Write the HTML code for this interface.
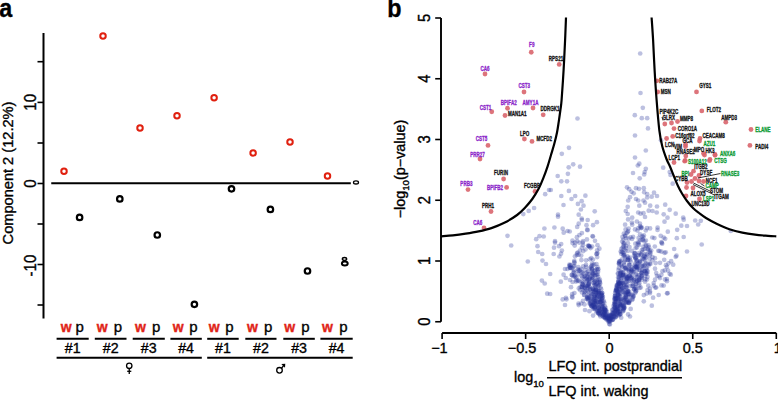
<!DOCTYPE html>
<html><head><meta charset="utf-8"><style>
html,body{margin:0;padding:0;background:#fff;}
svg{display:block;font-family:"Liberation Sans", sans-serif;}
text{fill:currentColor;stroke:currentColor;stroke-width:0.35px;paint-order:stroke;}
.lb{font-size:6.3px;font-weight:bold;stroke-width:0.3px;}
</style></head><body>
<svg width="778" height="400" viewBox="0 0 778 400">
<text transform="translate(-0.8,17) scale(0.88,1)" font-size="26.5" font-weight="bold">a</text>
<line x1="43.5" y1="33" x2="43.5" y2="318.5" stroke="#000" stroke-width="2"/>
<line x1="37.5" y1="61.7" x2="43.5" y2="61.7" stroke="#000" stroke-width="1.6"/>
<line x1="37.5" y1="102.4" x2="43.5" y2="102.4" stroke="#000" stroke-width="1.6"/>
<line x1="37.5" y1="143" x2="43.5" y2="143" stroke="#000" stroke-width="1.6"/>
<line x1="37.5" y1="183.5" x2="43.5" y2="183.5" stroke="#000" stroke-width="1.6"/>
<line x1="37.5" y1="224" x2="43.5" y2="224" stroke="#000" stroke-width="1.6"/>
<line x1="37.5" y1="264.5" x2="43.5" y2="264.5" stroke="#000" stroke-width="1.6"/>
<line x1="37.5" y1="305" x2="43.5" y2="305" stroke="#000" stroke-width="1.6"/>
<text transform="translate(36.4,102.3) rotate(-90) scale(1,1.1)" text-anchor="middle" font-size="15">10</text>
<text transform="translate(36.4,183.5) rotate(-90) scale(1,1.1)" text-anchor="middle" font-size="15">0</text>
<text transform="translate(36.4,265.6) rotate(-90) scale(1,1.1)" text-anchor="middle" font-size="15">-10</text>
<text transform="translate(13,173) rotate(-90)" text-anchor="middle" font-size="14.6">Component 2 (12.2%)</text>
<line x1="51.25" y1="183.3" x2="350.8" y2="183.3" stroke="#000" stroke-width="2"/>
<ellipse cx="356" cy="182.4" rx="2.5" ry="1.6" fill="none" stroke="#000" stroke-width="1.3"/>
<circle cx="64" cy="171.25" r="2.75" fill="none" stroke="#e0200f" stroke-width="2.0"/>
<circle cx="103" cy="36" r="2.75" fill="none" stroke="#e0200f" stroke-width="2.0"/>
<circle cx="140" cy="128" r="2.75" fill="none" stroke="#e0200f" stroke-width="2.0"/>
<circle cx="177" cy="115.75" r="2.75" fill="none" stroke="#e0200f" stroke-width="2.0"/>
<circle cx="214.1" cy="97.7" r="2.75" fill="none" stroke="#e0200f" stroke-width="2.0"/>
<circle cx="253.1" cy="152.9" r="2.75" fill="none" stroke="#e0200f" stroke-width="2.0"/>
<circle cx="290" cy="142.1" r="2.75" fill="none" stroke="#e0200f" stroke-width="2.0"/>
<circle cx="327.5" cy="176" r="2.75" fill="none" stroke="#e0200f" stroke-width="2.0"/>
<circle cx="79.6" cy="217.4" r="2.75" fill="none" stroke="#000" stroke-width="2.2"/>
<circle cx="119.8" cy="198.9" r="2.75" fill="none" stroke="#000" stroke-width="2.2"/>
<circle cx="157.3" cy="235" r="2.75" fill="none" stroke="#000" stroke-width="2.2"/>
<circle cx="194.4" cy="304.3" r="2.75" fill="none" stroke="#000" stroke-width="2.2"/>
<circle cx="231.5" cy="188.8" r="2.75" fill="none" stroke="#000" stroke-width="2.2"/>
<circle cx="270.4" cy="209.4" r="2.75" fill="none" stroke="#000" stroke-width="2.2"/>
<circle cx="307.5" cy="271" r="2.75" fill="none" stroke="#000" stroke-width="2.2"/>
<ellipse cx="344.8" cy="263.6" rx="2.9" ry="2.0" fill="none" stroke="#000" stroke-width="2"/><ellipse cx="344.5" cy="259" rx="2.1" ry="1.4" fill="none" stroke="#000" stroke-width="1.5"/>
<text x="66.2" y="331.6" text-anchor="middle" font-size="14" font-weight="bold" color="#e02418">w</text>
<text x="102.2" y="331.6" text-anchor="middle" font-size="14" font-weight="bold" color="#e02418">w</text>
<text x="140.5" y="331.6" text-anchor="middle" font-size="14" font-weight="bold" color="#e02418">w</text>
<text x="178.1" y="331.6" text-anchor="middle" font-size="14" font-weight="bold" color="#e02418">w</text>
<text x="214.1" y="331.6" text-anchor="middle" font-size="14" font-weight="bold" color="#e02418">w</text>
<text x="252.4" y="331.6" text-anchor="middle" font-size="14" font-weight="bold" color="#e02418">w</text>
<text x="289.8" y="331.6" text-anchor="middle" font-size="14" font-weight="bold" color="#e02418">w</text>
<text x="327.5" y="331.6" text-anchor="middle" font-size="14" font-weight="bold" color="#e02418">w</text>
<text x="79.6" y="331.6" text-anchor="middle" font-size="15">p</text>
<text x="118.0" y="331.6" text-anchor="middle" font-size="15">p</text>
<text x="156.2" y="331.6" text-anchor="middle" font-size="15">p</text>
<text x="193.4" y="331.6" text-anchor="middle" font-size="15">p</text>
<text x="229.5" y="331.6" text-anchor="middle" font-size="15">p</text>
<text x="268.2" y="331.6" text-anchor="middle" font-size="15">p</text>
<text x="305.4" y="331.6" text-anchor="middle" font-size="15">p</text>
<text x="343.4" y="331.6" text-anchor="middle" font-size="15">p</text>
<line x1="56.6" y1="338.8" x2="88.7" y2="338.8" stroke="#000" stroke-width="2"/>
<text x="72.65" y="353.2" text-anchor="middle" font-size="14.2">#1</text>
<line x1="94.8" y1="338.8" x2="126.5" y2="338.8" stroke="#000" stroke-width="2"/>
<text x="110.65" y="353.2" text-anchor="middle" font-size="14.2">#2</text>
<line x1="132.7" y1="338.8" x2="164.8" y2="338.8" stroke="#000" stroke-width="2"/>
<text x="148.75" y="353.2" text-anchor="middle" font-size="14.2">#3</text>
<line x1="170.4" y1="338.8" x2="201.8" y2="338.8" stroke="#000" stroke-width="2"/>
<text x="186.10000000000002" y="353.2" text-anchor="middle" font-size="14.2">#4</text>
<line x1="207.2" y1="338.8" x2="238.7" y2="338.8" stroke="#000" stroke-width="2"/>
<text x="222.95" y="353.2" text-anchor="middle" font-size="14.2">#1</text>
<line x1="245.3" y1="338.8" x2="276.5" y2="338.8" stroke="#000" stroke-width="2"/>
<text x="260.9" y="353.2" text-anchor="middle" font-size="14.2">#2</text>
<line x1="283.3" y1="338.8" x2="314.8" y2="338.8" stroke="#000" stroke-width="2"/>
<text x="299.05" y="353.2" text-anchor="middle" font-size="14.2">#3</text>
<line x1="320.4" y1="338.8" x2="352.7" y2="338.8" stroke="#000" stroke-width="2"/>
<text x="336.54999999999995" y="353.2" text-anchor="middle" font-size="14.2">#4</text>
<line x1="56.6" y1="357.7" x2="201.8" y2="357.7" stroke="#000" stroke-width="2"/>
<line x1="207.2" y1="357.7" x2="352.7" y2="357.7" stroke="#000" stroke-width="2"/>
<g fill="none" stroke="#000" stroke-width="1.3"><circle cx="129.25" cy="365.8" r="2.7"/><line x1="129.25" y1="368.5" x2="129.25" y2="373.9"/><line x1="127.2" y1="371.3" x2="131.3" y2="371.3"/></g>
<g fill="none" stroke="#000" stroke-width="1.3"><circle cx="279.5" cy="370.3" r="2.8"/><line x1="281.5" y1="368.3" x2="284" y2="365"/></g><path d="M281.3 364 L285.3 363.8 L285 367.8 Z" fill="#000"/>
<text transform="translate(387.2,17) scale(0.88,1)" font-size="26.5" font-weight="bold">b</text>
<line x1="441" y1="18.0" x2="441" y2="321.75" stroke="#000" stroke-width="1.9"/>
<line x1="435.2" y1="321.75" x2="441" y2="321.75" stroke="#000" stroke-width="1.6"/>
<text transform="translate(429.6,321.75) rotate(-90) scale(1,1.1)" text-anchor="middle" font-size="14.8">0</text>
<line x1="435.2" y1="261.0" x2="441" y2="261.0" stroke="#000" stroke-width="1.6"/>
<text transform="translate(429.6,261.0) rotate(-90) scale(1,1.1)" text-anchor="middle" font-size="14.8">1</text>
<line x1="435.2" y1="200.25" x2="441" y2="200.25" stroke="#000" stroke-width="1.6"/>
<text transform="translate(429.6,200.25) rotate(-90) scale(1,1.1)" text-anchor="middle" font-size="14.8">2</text>
<line x1="435.2" y1="139.5" x2="441" y2="139.5" stroke="#000" stroke-width="1.6"/>
<text transform="translate(429.6,139.5) rotate(-90) scale(1,1.1)" text-anchor="middle" font-size="14.8">3</text>
<line x1="435.2" y1="78.75" x2="441" y2="78.75" stroke="#000" stroke-width="1.6"/>
<text transform="translate(429.6,78.75) rotate(-90) scale(1,1.1)" text-anchor="middle" font-size="14.8">4</text>
<line x1="435.2" y1="18.0" x2="441" y2="18.0" stroke="#000" stroke-width="1.6"/>
<text transform="translate(429.6,18.0) rotate(-90) scale(1,1.1)" text-anchor="middle" font-size="14.8">5</text>
<text transform="translate(405,169) rotate(-90)" text-anchor="middle" font-size="14.4">−log<tspan font-size="9.6" dy="4">10</tspan><tspan dy="-4">(p−value)</tspan></text>
<line x1="442.1" y1="333" x2="776.3000000000001" y2="333" stroke="#000" stroke-width="1.8"/>
<line x1="442.1" y1="333" x2="442.1" y2="339" stroke="#000" stroke-width="1.6"/>
<text x="439.40000000000003" y="353.4" text-anchor="middle" font-size="14.5">−1</text>
<line x1="525.6500000000001" y1="333" x2="525.6500000000001" y2="339" stroke="#000" stroke-width="1.6"/>
<text x="522.0500000000001" y="353.4" text-anchor="middle" font-size="14.5">−0.5</text>
<line x1="609.2" y1="333" x2="609.2" y2="339" stroke="#000" stroke-width="1.6"/>
<text x="609.5" y="353.4" text-anchor="middle" font-size="14.5">0</text>
<line x1="692.75" y1="333" x2="692.75" y2="339" stroke="#000" stroke-width="1.6"/>
<text x="692.75" y="353.4" text-anchor="middle" font-size="14.5">0.5</text>
<line x1="776.3000000000001" y1="333" x2="776.3000000000001" y2="339" stroke="#000" stroke-width="1.6"/>
<text x="777.8000000000001" y="353.4" text-anchor="middle" font-size="14.5">1</text>
<text x="514" y="381.5" font-size="14.4">log<tspan font-size="9.6" dy="5.6">10</tspan></text>
<text x="548.5" y="370.6" font-size="14.4">LFQ int. postprandial</text>
<line x1="547" y1="377.8" x2="682" y2="377.8" stroke="#000" stroke-width="1.6"/>
<text x="548.5" y="395.7" font-size="14.4">LFQ int. waking</text>
<g fill="#26349a" fill-opacity="0.31">
<circle cx="507.5" cy="235.8" r="2.35"/>
<circle cx="511.2" cy="245.5" r="2.35"/>
<circle cx="536.2" cy="239.2" r="2.35"/>
<circle cx="539.5" cy="236.2" r="2.35"/>
<circle cx="537.5" cy="246.2" r="2.35"/>
<circle cx="538.2" cy="252.0" r="2.35"/>
<circle cx="527.8" cy="261.5" r="2.35"/>
<circle cx="523.3" cy="214.1" r="2.35"/>
<circle cx="528.7" cy="210.9" r="2.35"/>
<circle cx="534.1" cy="208.0" r="2.35"/>
<circle cx="640.2" cy="53.5" r="2.35"/>
<circle cx="640.5" cy="93.0" r="2.35"/>
<circle cx="642.8" cy="107.8" r="2.35"/>
<circle cx="634.8" cy="115.2" r="2.35"/>
<circle cx="641.8" cy="118.2" r="2.35"/>
<circle cx="647.2" cy="118.2" r="2.35"/>
<circle cx="577.5" cy="118.5" r="2.35"/>
<circle cx="635.0" cy="135.5" r="2.35"/>
<circle cx="569.0" cy="147.8" r="2.35"/>
<circle cx="561.8" cy="153.8" r="2.35"/>
<circle cx="635.0" cy="157.5" r="2.35"/>
<circle cx="573.2" cy="164.3" r="2.35"/>
<circle cx="568.7" cy="167.3" r="2.35"/>
<circle cx="580.0" cy="166.7" r="2.35"/>
<circle cx="648.0" cy="128.4" r="2.35"/>
<circle cx="661.0" cy="140.3" r="2.35"/>
<circle cx="645.8" cy="150.5" r="2.35"/>
<circle cx="645.8" cy="168.8" r="2.35"/>
<circle cx="663.2" cy="167.7" r="2.35"/>
<circle cx="567.9" cy="173.8" r="2.35"/>
<circle cx="557.7" cy="176.0" r="2.35"/>
<circle cx="561.3" cy="181.3" r="2.35"/>
<circle cx="567.0" cy="181.3" r="2.35"/>
<circle cx="549.0" cy="190.0" r="2.35"/>
<circle cx="550.8" cy="190.0" r="2.35"/>
<circle cx="545.2" cy="194.2" r="2.35"/>
<circle cx="568.9" cy="190.9" r="2.35"/>
<circle cx="561.3" cy="196.0" r="2.35"/>
<circle cx="575.2" cy="196.0" r="2.35"/>
<circle cx="585.4" cy="195.7" r="2.35"/>
<circle cx="571.5" cy="199.0" r="2.35"/>
<circle cx="581.7" cy="201.2" r="2.35"/>
<circle cx="577.9" cy="203.9" r="2.35"/>
<circle cx="583.5" cy="205.7" r="2.35"/>
<circle cx="563.5" cy="205.0" r="2.35"/>
<circle cx="580.9" cy="209.5" r="2.35"/>
<circle cx="594.7" cy="211.3" r="2.35"/>
<circle cx="558.0" cy="214.7" r="2.35"/>
<circle cx="558.0" cy="216.7" r="2.35"/>
<circle cx="578.7" cy="214.7" r="2.35"/>
<circle cx="581.7" cy="218.5" r="2.35"/>
<circle cx="587.7" cy="220.0" r="2.35"/>
<circle cx="639.3" cy="163.7" r="2.35"/>
<circle cx="637.8" cy="165.5" r="2.35"/>
<circle cx="644.7" cy="172.0" r="2.35"/>
<circle cx="644.2" cy="174.5" r="2.35"/>
<circle cx="633.0" cy="173.0" r="2.35"/>
<circle cx="639.7" cy="178.3" r="2.35"/>
<circle cx="670.5" cy="175.0" r="2.35"/>
<circle cx="672.7" cy="183.7" r="2.35"/>
<circle cx="627.0" cy="187.3" r="2.35"/>
<circle cx="629.2" cy="189.2" r="2.35"/>
<circle cx="636.0" cy="188.2" r="2.35"/>
<circle cx="639.0" cy="188.8" r="2.35"/>
<circle cx="643.8" cy="188.2" r="2.35"/>
<circle cx="631.5" cy="191.8" r="2.35"/>
<circle cx="633.7" cy="193.3" r="2.35"/>
<circle cx="644.2" cy="192.2" r="2.35"/>
<circle cx="647.2" cy="194.2" r="2.35"/>
<circle cx="654.0" cy="192.7" r="2.35"/>
<circle cx="651.7" cy="196.7" r="2.35"/>
<circle cx="657.0" cy="196.0" r="2.35"/>
<circle cx="630.0" cy="197.2" r="2.35"/>
<circle cx="628.2" cy="200.5" r="2.35"/>
<circle cx="636.0" cy="199.0" r="2.35"/>
<circle cx="638.2" cy="200.5" r="2.35"/>
<circle cx="643.5" cy="200.5" r="2.35"/>
<circle cx="645.0" cy="202.7" r="2.35"/>
<circle cx="647.2" cy="197.5" r="2.35"/>
<circle cx="639.3" cy="205.7" r="2.35"/>
<circle cx="627.7" cy="206.8" r="2.35"/>
<circle cx="650.2" cy="205.7" r="2.35"/>
<circle cx="657.0" cy="206.5" r="2.35"/>
<circle cx="665.2" cy="204.7" r="2.35"/>
<circle cx="625.8" cy="211.0" r="2.35"/>
<circle cx="648.7" cy="210.7" r="2.35"/>
<circle cx="652.5" cy="211.0" r="2.35"/>
<circle cx="638.2" cy="212.5" r="2.35"/>
<circle cx="643.5" cy="213.2" r="2.35"/>
<circle cx="656.7" cy="212.5" r="2.35"/>
<circle cx="669.7" cy="209.8" r="2.35"/>
<circle cx="675.7" cy="213.7" r="2.35"/>
<circle cx="627.7" cy="214.0" r="2.35"/>
<circle cx="663.7" cy="214.3" r="2.35"/>
<circle cx="632.2" cy="217.7" r="2.35"/>
<circle cx="645.0" cy="217.0" r="2.35"/>
<circle cx="667.5" cy="217.7" r="2.35"/>
<circle cx="669.7" cy="172.0" r="2.35"/>
<circle cx="683.2" cy="217.5" r="2.35"/>
<circle cx="683.7" cy="219.7" r="2.35"/>
<circle cx="695.2" cy="220.5" r="2.35"/>
<circle cx="700.8" cy="220.8" r="2.35"/>
<circle cx="698.2" cy="224.5" r="2.35"/>
<circle cx="664.5" cy="221.7" r="2.35"/>
<circle cx="681.3" cy="225.7" r="2.35"/>
<circle cx="687.0" cy="226.0" r="2.35"/>
<circle cx="677.2" cy="229.8" r="2.35"/>
<circle cx="667.8" cy="231.7" r="2.35"/>
<circle cx="730.8" cy="231.0" r="2.35"/>
<circle cx="660.7" cy="235.8" r="2.35"/>
<circle cx="663.7" cy="237.7" r="2.35"/>
<circle cx="665.2" cy="238.8" r="2.35"/>
<circle cx="676.8" cy="238.2" r="2.35"/>
<circle cx="683.7" cy="237.0" r="2.35"/>
<circle cx="661.5" cy="242.2" r="2.35"/>
<circle cx="662.2" cy="243.7" r="2.35"/>
<circle cx="701.7" cy="244.5" r="2.35"/>
<circle cx="674.2" cy="249.0" r="2.35"/>
<circle cx="687.0" cy="251.5" r="2.35"/>
<circle cx="661.5" cy="251.7" r="2.35"/>
<circle cx="665.7" cy="252.3" r="2.35"/>
<circle cx="675.7" cy="256.8" r="2.35"/>
<circle cx="676.5" cy="255.7" r="2.35"/>
<circle cx="660.0" cy="262.8" r="2.35"/>
<circle cx="666.0" cy="265.2" r="2.35"/>
<circle cx="673.2" cy="264.7" r="2.35"/>
<circle cx="581.9" cy="220.0" r="2.35"/>
<circle cx="578.7" cy="223.7" r="2.35"/>
<circle cx="577.2" cy="226.9" r="2.35"/>
<circle cx="586.5" cy="225.2" r="2.35"/>
<circle cx="544.4" cy="228.5" r="2.35"/>
<circle cx="554.4" cy="227.5" r="2.35"/>
<circle cx="562.7" cy="228.7" r="2.35"/>
<circle cx="587.2" cy="229.7" r="2.35"/>
<circle cx="587.6" cy="230.2" r="2.35"/>
<circle cx="563.7" cy="232.7" r="2.35"/>
<circle cx="567.5" cy="231.0" r="2.35"/>
<circle cx="569.7" cy="231.5" r="2.35"/>
<circle cx="581.9" cy="233.1" r="2.35"/>
<circle cx="579.4" cy="235.0" r="2.35"/>
<circle cx="576.9" cy="237.2" r="2.35"/>
<circle cx="543.7" cy="236.5" r="2.35"/>
<circle cx="555.0" cy="241.2" r="2.35"/>
<circle cx="555.0" cy="242.7" r="2.35"/>
<circle cx="561.2" cy="244.0" r="2.35"/>
<circle cx="559.0" cy="246.2" r="2.35"/>
<circle cx="572.5" cy="240.6" r="2.35"/>
<circle cx="575.0" cy="242.7" r="2.35"/>
<circle cx="577.2" cy="241.2" r="2.35"/>
<circle cx="574.7" cy="245.6" r="2.35"/>
<circle cx="579.4" cy="242.7" r="2.35"/>
<circle cx="583.1" cy="241.2" r="2.35"/>
<circle cx="586.9" cy="239.4" r="2.35"/>
<circle cx="554.0" cy="247.7" r="2.35"/>
<circle cx="542.2" cy="254.0" r="2.35"/>
<circle cx="561.9" cy="250.6" r="2.35"/>
<circle cx="561.0" cy="253.7" r="2.35"/>
<circle cx="553.7" cy="254.0" r="2.35"/>
<circle cx="559.4" cy="256.5" r="2.35"/>
<circle cx="576.9" cy="255.0" r="2.35"/>
<circle cx="588.7" cy="246.2" r="2.35"/>
<circle cx="596.9" cy="222.2" r="2.35"/>
<circle cx="593.1" cy="225.2" r="2.35"/>
<circle cx="592.5" cy="236.2" r="2.35"/>
<circle cx="593.0" cy="236.5" r="2.35"/>
<circle cx="597.5" cy="245.2" r="2.35"/>
<circle cx="599.4" cy="248.7" r="2.35"/>
<circle cx="590.6" cy="248.1" r="2.35"/>
<circle cx="589.5" cy="247.0" r="2.35"/>
<circle cx="597.5" cy="253.1" r="2.35"/>
<circle cx="640.6" cy="213.7" r="2.35"/>
<circle cx="628.1" cy="219.4" r="2.35"/>
<circle cx="636.9" cy="221.5" r="2.35"/>
<circle cx="640.0" cy="223.7" r="2.35"/>
<circle cx="632.2" cy="224.7" r="2.35"/>
<circle cx="641.9" cy="227.5" r="2.35"/>
<circle cx="625.6" cy="229.4" r="2.35"/>
<circle cx="628.1" cy="231.2" r="2.35"/>
<circle cx="635.0" cy="229.4" r="2.35"/>
<circle cx="637.5" cy="230.6" r="2.35"/>
<circle cx="622.5" cy="236.9" r="2.35"/>
<circle cx="625.0" cy="235.6" r="2.35"/>
<circle cx="633.1" cy="236.9" r="2.35"/>
<circle cx="640.0" cy="234.4" r="2.35"/>
<circle cx="642.5" cy="239.4" r="2.35"/>
<circle cx="542.5" cy="260.6" r="2.35"/>
<circle cx="546.0" cy="264.0" r="2.35"/>
<circle cx="565.0" cy="269.0" r="2.35"/>
<circle cx="567.5" cy="269.0" r="2.35"/>
<circle cx="569.4" cy="264.7" r="2.35"/>
<circle cx="550.2" cy="274.0" r="2.35"/>
<circle cx="541.9" cy="280.6" r="2.35"/>
<circle cx="544.7" cy="283.5" r="2.35"/>
<circle cx="570.0" cy="280.0" r="2.35"/>
<circle cx="571.0" cy="287.2" r="2.35"/>
<circle cx="547.2" cy="293.7" r="2.35"/>
<circle cx="550.2" cy="294.0" r="2.35"/>
<circle cx="562.7" cy="299.4" r="2.35"/>
<circle cx="574.4" cy="293.1" r="2.35"/>
<circle cx="581.2" cy="255.6" r="2.35"/>
<circle cx="651.2" cy="250.6" r="2.35"/>
<circle cx="652.5" cy="257.2" r="2.35"/>
<circle cx="655.6" cy="263.1" r="2.35"/>
<circle cx="655.0" cy="268.7" r="2.35"/>
<circle cx="662.5" cy="271.2" r="2.35"/>
<circle cx="668.1" cy="270.6" r="2.35"/>
<circle cx="656.2" cy="273.1" r="2.35"/>
<circle cx="660.0" cy="278.1" r="2.35"/>
<circle cx="665.0" cy="279.4" r="2.35"/>
<circle cx="666.9" cy="281.2" r="2.35"/>
<circle cx="653.7" cy="283.1" r="2.35"/>
<circle cx="656.2" cy="287.5" r="2.35"/>
<circle cx="663.7" cy="285.6" r="2.35"/>
<circle cx="658.7" cy="295.0" r="2.35"/>
<circle cx="653.1" cy="297.7" r="2.35"/>
<circle cx="647.5" cy="290.0" r="2.35"/>
<circle cx="650.0" cy="293.1" r="2.35"/>
<circle cx="645.0" cy="265.0" r="2.35"/>
<circle cx="647.5" cy="271.9" r="2.35"/>
<circle cx="647.5" cy="276.9" r="2.35"/>
<circle cx="643.8" cy="301.3" r="2.35"/>
<circle cx="643.8" cy="295.1" r="2.35"/>
<circle cx="630.7" cy="308.9" r="2.35"/>
<circle cx="630.0" cy="316.5" r="2.35"/>
<circle cx="565.0" cy="305.0" r="2.35"/>
<circle cx="578.5" cy="303.5" r="2.35"/>
<circle cx="581.2" cy="303.5" r="2.35"/>
<circle cx="585.0" cy="310.0" r="2.35"/>
<circle cx="593.1" cy="315.6" r="2.35"/>
<circle cx="628.1" cy="314.4" r="2.35"/>
<circle cx="621.2" cy="317.7" r="2.35"/>
<circle cx="609.9" cy="324.4" r="2.35"/>
<circle cx="609.3" cy="322.0" r="2.35"/>
<circle cx="608.1" cy="321.4" r="2.35"/>
<circle cx="609.1" cy="321.1" r="2.35"/>
<circle cx="608.8" cy="320.3" r="2.35"/>
<circle cx="606.6" cy="319.6" r="2.35"/>
<circle cx="607.1" cy="318.5" r="2.35"/>
<circle cx="609.1" cy="318.6" r="2.35"/>
<circle cx="607.7" cy="319.4" r="2.35"/>
<circle cx="607.3" cy="317.7" r="2.35"/>
<circle cx="608.1" cy="317.9" r="2.35"/>
<circle cx="605.0" cy="318.1" r="2.35"/>
<circle cx="605.6" cy="318.4" r="2.35"/>
<circle cx="609.0" cy="318.3" r="2.35"/>
<circle cx="605.9" cy="317.2" r="2.35"/>
<circle cx="604.6" cy="317.0" r="2.35"/>
<circle cx="607.0" cy="316.7" r="2.35"/>
<circle cx="603.7" cy="317.3" r="2.35"/>
<circle cx="604.7" cy="317.0" r="2.35"/>
<circle cx="602.7" cy="316.2" r="2.35"/>
<circle cx="600.4" cy="316.4" r="2.35"/>
<circle cx="605.6" cy="315.7" r="2.35"/>
<circle cx="608.0" cy="316.0" r="2.35"/>
<circle cx="609.0" cy="315.8" r="2.35"/>
<circle cx="603.6" cy="314.6" r="2.35"/>
<circle cx="606.2" cy="314.8" r="2.35"/>
<circle cx="603.3" cy="314.9" r="2.35"/>
<circle cx="604.7" cy="314.7" r="2.35"/>
<circle cx="599.8" cy="315.0" r="2.35"/>
<circle cx="602.6" cy="315.4" r="2.35"/>
<circle cx="601.4" cy="313.5" r="2.35"/>
<circle cx="599.8" cy="314.2" r="2.35"/>
<circle cx="603.7" cy="313.8" r="2.35"/>
<circle cx="607.0" cy="314.0" r="2.35"/>
<circle cx="605.7" cy="314.4" r="2.35"/>
<circle cx="599.4" cy="313.4" r="2.35"/>
<circle cx="604.6" cy="313.1" r="2.35"/>
<circle cx="598.4" cy="313.4" r="2.35"/>
<circle cx="602.6" cy="313.0" r="2.35"/>
<circle cx="598.3" cy="312.7" r="2.35"/>
<circle cx="598.5" cy="313.2" r="2.35"/>
<circle cx="602.9" cy="311.6" r="2.35"/>
<circle cx="596.4" cy="312.3" r="2.35"/>
<circle cx="604.8" cy="312.3" r="2.35"/>
<circle cx="604.2" cy="312.0" r="2.35"/>
<circle cx="600.4" cy="312.2" r="2.35"/>
<circle cx="606.7" cy="312.1" r="2.35"/>
<circle cx="599.8" cy="310.5" r="2.35"/>
<circle cx="598.4" cy="311.0" r="2.35"/>
<circle cx="599.2" cy="310.8" r="2.35"/>
<circle cx="605.8" cy="310.6" r="2.35"/>
<circle cx="597.4" cy="310.6" r="2.35"/>
<circle cx="597.1" cy="311.1" r="2.35"/>
<circle cx="604.9" cy="309.9" r="2.35"/>
<circle cx="605.4" cy="310.4" r="2.35"/>
<circle cx="603.6" cy="310.3" r="2.35"/>
<circle cx="602.0" cy="310.4" r="2.35"/>
<circle cx="606.2" cy="310.3" r="2.35"/>
<circle cx="604.9" cy="310.1" r="2.35"/>
<circle cx="594.7" cy="308.9" r="2.35"/>
<circle cx="604.0" cy="309.2" r="2.35"/>
<circle cx="601.5" cy="309.1" r="2.35"/>
<circle cx="604.3" cy="308.7" r="2.35"/>
<circle cx="593.2" cy="309.0" r="2.35"/>
<circle cx="599.7" cy="309.4" r="2.35"/>
<circle cx="604.6" cy="309.2" r="2.35"/>
<circle cx="594.6" cy="308.3" r="2.35"/>
<circle cx="605.4" cy="307.5" r="2.35"/>
<circle cx="598.6" cy="308.4" r="2.35"/>
<circle cx="598.4" cy="308.5" r="2.35"/>
<circle cx="598.6" cy="307.5" r="2.35"/>
<circle cx="594.1" cy="307.8" r="2.35"/>
<circle cx="602.2" cy="308.1" r="2.35"/>
<circle cx="594.7" cy="307.0" r="2.35"/>
<circle cx="594.6" cy="307.2" r="2.35"/>
<circle cx="602.3" cy="306.7" r="2.35"/>
<circle cx="591.8" cy="306.6" r="2.35"/>
<circle cx="594.3" cy="306.7" r="2.35"/>
<circle cx="595.2" cy="307.3" r="2.35"/>
<circle cx="598.3" cy="307.1" r="2.35"/>
<circle cx="604.8" cy="306.2" r="2.35"/>
<circle cx="601.5" cy="305.8" r="2.35"/>
<circle cx="591.4" cy="306.1" r="2.35"/>
<circle cx="591.7" cy="305.5" r="2.35"/>
<circle cx="591.5" cy="306.1" r="2.35"/>
<circle cx="602.0" cy="306.3" r="2.35"/>
<circle cx="602.4" cy="306.3" r="2.35"/>
<circle cx="591.6" cy="304.7" r="2.35"/>
<circle cx="597.8" cy="304.8" r="2.35"/>
<circle cx="593.1" cy="305.4" r="2.35"/>
<circle cx="595.1" cy="304.6" r="2.35"/>
<circle cx="593.3" cy="304.7" r="2.35"/>
<circle cx="597.8" cy="305.3" r="2.35"/>
<circle cx="593.2" cy="305.2" r="2.35"/>
<circle cx="589.8" cy="304.1" r="2.35"/>
<circle cx="598.5" cy="303.6" r="2.35"/>
<circle cx="593.6" cy="304.3" r="2.35"/>
<circle cx="602.7" cy="304.3" r="2.35"/>
<circle cx="590.8" cy="303.7" r="2.35"/>
<circle cx="602.5" cy="303.7" r="2.35"/>
<circle cx="594.1" cy="303.1" r="2.35"/>
<circle cx="595.8" cy="303.4" r="2.35"/>
<circle cx="604.3" cy="302.5" r="2.35"/>
<circle cx="594.2" cy="303.0" r="2.35"/>
<circle cx="589.7" cy="303.1" r="2.35"/>
<circle cx="590.7" cy="302.7" r="2.35"/>
<circle cx="600.2" cy="302.2" r="2.35"/>
<circle cx="600.4" cy="301.9" r="2.35"/>
<circle cx="600.1" cy="302.1" r="2.35"/>
<circle cx="602.2" cy="301.6" r="2.35"/>
<circle cx="598.5" cy="302.0" r="2.35"/>
<circle cx="594.8" cy="301.6" r="2.35"/>
<circle cx="597.4" cy="301.6" r="2.35"/>
<circle cx="595.1" cy="301.0" r="2.35"/>
<circle cx="603.8" cy="301.1" r="2.35"/>
<circle cx="601.0" cy="301.5" r="2.35"/>
<circle cx="590.6" cy="301.3" r="2.35"/>
<circle cx="596.1" cy="300.8" r="2.35"/>
<circle cx="594.7" cy="301.2" r="2.35"/>
<circle cx="595.4" cy="300.9" r="2.35"/>
<circle cx="602.1" cy="299.9" r="2.35"/>
<circle cx="599.6" cy="300.2" r="2.35"/>
<circle cx="590.5" cy="300.0" r="2.35"/>
<circle cx="594.2" cy="299.7" r="2.35"/>
<circle cx="588.1" cy="300.1" r="2.35"/>
<circle cx="593.3" cy="300.0" r="2.35"/>
<circle cx="591.3" cy="299.0" r="2.35"/>
<circle cx="594.2" cy="299.0" r="2.35"/>
<circle cx="586.9" cy="298.8" r="2.35"/>
<circle cx="588.0" cy="298.6" r="2.35"/>
<circle cx="599.1" cy="298.9" r="2.35"/>
<circle cx="586.8" cy="298.7" r="2.35"/>
<circle cx="601.2" cy="299.4" r="2.35"/>
<circle cx="602.2" cy="298.3" r="2.35"/>
<circle cx="602.2" cy="297.8" r="2.35"/>
<circle cx="589.1" cy="297.6" r="2.35"/>
<circle cx="600.7" cy="297.8" r="2.35"/>
<circle cx="591.3" cy="298.4" r="2.35"/>
<circle cx="587.2" cy="297.5" r="2.35"/>
<circle cx="599.5" cy="297.5" r="2.35"/>
<circle cx="594.1" cy="296.5" r="2.35"/>
<circle cx="587.5" cy="297.3" r="2.35"/>
<circle cx="595.1" cy="297.0" r="2.35"/>
<circle cx="596.9" cy="297.3" r="2.35"/>
<circle cx="597.3" cy="296.8" r="2.35"/>
<circle cx="602.9" cy="296.9" r="2.35"/>
<circle cx="594.9" cy="297.5" r="2.35"/>
<circle cx="590.9" cy="296.0" r="2.35"/>
<circle cx="601.8" cy="295.5" r="2.35"/>
<circle cx="587.7" cy="295.5" r="2.35"/>
<circle cx="601.1" cy="296.2" r="2.35"/>
<circle cx="602.3" cy="295.7" r="2.35"/>
<circle cx="597.8" cy="296.4" r="2.35"/>
<circle cx="594.9" cy="295.6" r="2.35"/>
<circle cx="597.7" cy="295.4" r="2.35"/>
<circle cx="584.4" cy="294.9" r="2.35"/>
<circle cx="588.8" cy="295.4" r="2.35"/>
<circle cx="601.7" cy="294.8" r="2.35"/>
<circle cx="594.4" cy="295.4" r="2.35"/>
<circle cx="584.1" cy="294.9" r="2.35"/>
<circle cx="601.0" cy="293.6" r="2.35"/>
<circle cx="601.3" cy="293.6" r="2.35"/>
<circle cx="593.3" cy="294.2" r="2.35"/>
<circle cx="591.3" cy="293.6" r="2.35"/>
<circle cx="597.2" cy="294.4" r="2.35"/>
<circle cx="591.8" cy="294.3" r="2.35"/>
<circle cx="599.1" cy="293.4" r="2.35"/>
<circle cx="598.2" cy="293.2" r="2.35"/>
<circle cx="596.0" cy="292.7" r="2.35"/>
<circle cx="596.4" cy="293.0" r="2.35"/>
<circle cx="598.7" cy="293.2" r="2.35"/>
<circle cx="602.1" cy="293.2" r="2.35"/>
<circle cx="602.2" cy="292.8" r="2.35"/>
<circle cx="598.2" cy="292.0" r="2.35"/>
<circle cx="582.0" cy="292.4" r="2.35"/>
<circle cx="584.5" cy="292.1" r="2.35"/>
<circle cx="591.5" cy="291.7" r="2.35"/>
<circle cx="593.8" cy="292.0" r="2.35"/>
<circle cx="587.4" cy="291.5" r="2.35"/>
<circle cx="594.9" cy="291.7" r="2.35"/>
<circle cx="588.0" cy="291.1" r="2.35"/>
<circle cx="594.4" cy="291.4" r="2.35"/>
<circle cx="599.2" cy="291.4" r="2.35"/>
<circle cx="585.7" cy="291.2" r="2.35"/>
<circle cx="598.5" cy="291.4" r="2.35"/>
<circle cx="583.5" cy="290.6" r="2.35"/>
<circle cx="595.6" cy="290.3" r="2.35"/>
<circle cx="595.3" cy="290.0" r="2.35"/>
<circle cx="598.4" cy="290.1" r="2.35"/>
<circle cx="596.0" cy="289.5" r="2.35"/>
<circle cx="580.1" cy="290.0" r="2.35"/>
<circle cx="596.4" cy="289.5" r="2.35"/>
<circle cx="593.6" cy="289.5" r="2.35"/>
<circle cx="593.0" cy="289.0" r="2.35"/>
<circle cx="590.3" cy="289.3" r="2.35"/>
<circle cx="590.2" cy="289.5" r="2.35"/>
<circle cx="595.7" cy="289.4" r="2.35"/>
<circle cx="592.6" cy="289.5" r="2.35"/>
<circle cx="601.2" cy="289.2" r="2.35"/>
<circle cx="588.0" cy="288.0" r="2.35"/>
<circle cx="584.2" cy="287.8" r="2.35"/>
<circle cx="585.0" cy="287.6" r="2.35"/>
<circle cx="592.5" cy="288.2" r="2.35"/>
<circle cx="578.8" cy="288.4" r="2.35"/>
<circle cx="584.8" cy="287.9" r="2.35"/>
<circle cx="600.5" cy="287.7" r="2.35"/>
<circle cx="586.7" cy="286.8" r="2.35"/>
<circle cx="582.3" cy="287.4" r="2.35"/>
<circle cx="589.1" cy="287.0" r="2.35"/>
<circle cx="581.8" cy="286.7" r="2.35"/>
<circle cx="582.0" cy="286.9" r="2.35"/>
<circle cx="580.5" cy="286.8" r="2.35"/>
<circle cx="595.7" cy="286.5" r="2.35"/>
<circle cx="598.0" cy="286.1" r="2.35"/>
<circle cx="598.6" cy="285.7" r="2.35"/>
<circle cx="587.9" cy="285.9" r="2.35"/>
<circle cx="586.3" cy="285.8" r="2.35"/>
<circle cx="589.5" cy="286.5" r="2.35"/>
<circle cx="583.0" cy="285.0" r="2.35"/>
<circle cx="588.1" cy="284.8" r="2.35"/>
<circle cx="599.3" cy="284.8" r="2.35"/>
<circle cx="594.9" cy="285.4" r="2.35"/>
<circle cx="594.5" cy="284.8" r="2.35"/>
<circle cx="596.0" cy="284.8" r="2.35"/>
<circle cx="588.7" cy="284.1" r="2.35"/>
<circle cx="589.1" cy="283.8" r="2.35"/>
<circle cx="582.1" cy="283.9" r="2.35"/>
<circle cx="585.1" cy="284.4" r="2.35"/>
<circle cx="597.1" cy="284.2" r="2.35"/>
<circle cx="582.7" cy="284.2" r="2.35"/>
<circle cx="600.2" cy="283.4" r="2.35"/>
<circle cx="593.9" cy="282.8" r="2.35"/>
<circle cx="583.5" cy="282.8" r="2.35"/>
<circle cx="593.4" cy="283.0" r="2.35"/>
<circle cx="589.1" cy="283.0" r="2.35"/>
<circle cx="597.6" cy="282.6" r="2.35"/>
<circle cx="576.0" cy="281.6" r="2.35"/>
<circle cx="599.9" cy="282.0" r="2.35"/>
<circle cx="579.9" cy="281.5" r="2.35"/>
<circle cx="589.1" cy="282.2" r="2.35"/>
<circle cx="595.1" cy="281.6" r="2.35"/>
<circle cx="595.1" cy="281.9" r="2.35"/>
<circle cx="586.9" cy="280.5" r="2.35"/>
<circle cx="596.8" cy="280.7" r="2.35"/>
<circle cx="587.3" cy="280.6" r="2.35"/>
<circle cx="582.4" cy="281.3" r="2.35"/>
<circle cx="577.5" cy="281.0" r="2.35"/>
<circle cx="599.5" cy="281.5" r="2.35"/>
<circle cx="588.4" cy="280.2" r="2.35"/>
<circle cx="596.3" cy="280.2" r="2.35"/>
<circle cx="591.9" cy="279.7" r="2.35"/>
<circle cx="599.9" cy="279.7" r="2.35"/>
<circle cx="578.5" cy="280.4" r="2.35"/>
<circle cx="576.3" cy="279.8" r="2.35"/>
<circle cx="592.3" cy="279.1" r="2.35"/>
<circle cx="589.6" cy="278.5" r="2.35"/>
<circle cx="584.5" cy="279.1" r="2.35"/>
<circle cx="588.7" cy="279.2" r="2.35"/>
<circle cx="598.5" cy="279.4" r="2.35"/>
<circle cx="592.2" cy="277.6" r="2.35"/>
<circle cx="593.1" cy="278.2" r="2.35"/>
<circle cx="586.3" cy="278.3" r="2.35"/>
<circle cx="589.9" cy="277.5" r="2.35"/>
<circle cx="576.5" cy="277.7" r="2.35"/>
<circle cx="575.3" cy="276.6" r="2.35"/>
<circle cx="584.9" cy="276.8" r="2.35"/>
<circle cx="598.2" cy="276.8" r="2.35"/>
<circle cx="587.6" cy="276.7" r="2.35"/>
<circle cx="582.4" cy="277.2" r="2.35"/>
<circle cx="574.4" cy="276.4" r="2.35"/>
<circle cx="586.7" cy="276.2" r="2.35"/>
<circle cx="591.4" cy="275.8" r="2.35"/>
<circle cx="573.1" cy="276.2" r="2.35"/>
<circle cx="581.7" cy="276.2" r="2.35"/>
<circle cx="584.4" cy="276.1" r="2.35"/>
<circle cx="594.9" cy="275.3" r="2.35"/>
<circle cx="574.5" cy="275.0" r="2.35"/>
<circle cx="593.3" cy="274.6" r="2.35"/>
<circle cx="572.0" cy="275.1" r="2.35"/>
<circle cx="595.5" cy="275.3" r="2.35"/>
<circle cx="596.9" cy="275.2" r="2.35"/>
<circle cx="592.6" cy="274.2" r="2.35"/>
<circle cx="583.4" cy="273.6" r="2.35"/>
<circle cx="578.4" cy="274.1" r="2.35"/>
<circle cx="587.7" cy="274.0" r="2.35"/>
<circle cx="588.8" cy="274.2" r="2.35"/>
<circle cx="597.5" cy="274.2" r="2.35"/>
<circle cx="595.6" cy="273.0" r="2.35"/>
<circle cx="581.4" cy="272.6" r="2.35"/>
<circle cx="593.1" cy="273.2" r="2.35"/>
<circle cx="592.1" cy="273.1" r="2.35"/>
<circle cx="586.6" cy="272.5" r="2.35"/>
<circle cx="574.1" cy="272.5" r="2.35"/>
<circle cx="598.1" cy="271.8" r="2.35"/>
<circle cx="573.4" cy="272.0" r="2.35"/>
<circle cx="582.3" cy="272.5" r="2.35"/>
<circle cx="587.9" cy="271.6" r="2.35"/>
<circle cx="574.1" cy="270.5" r="2.35"/>
<circle cx="591.7" cy="271.4" r="2.35"/>
<circle cx="594.5" cy="271.0" r="2.35"/>
<circle cx="579.2" cy="270.6" r="2.35"/>
<circle cx="578.0" cy="270.9" r="2.35"/>
<circle cx="585.4" cy="269.9" r="2.35"/>
<circle cx="597.7" cy="269.7" r="2.35"/>
<circle cx="592.0" cy="269.6" r="2.35"/>
<circle cx="579.9" cy="270.2" r="2.35"/>
<circle cx="595.1" cy="270.2" r="2.35"/>
<circle cx="578.0" cy="269.4" r="2.35"/>
<circle cx="596.7" cy="269.0" r="2.35"/>
<circle cx="581.4" cy="269.1" r="2.35"/>
<circle cx="592.1" cy="268.9" r="2.35"/>
<circle cx="598.4" cy="269.2" r="2.35"/>
<circle cx="570.0" cy="267.9" r="2.35"/>
<circle cx="572.3" cy="268.0" r="2.35"/>
<circle cx="591.6" cy="268.3" r="2.35"/>
<circle cx="570.0" cy="267.8" r="2.35"/>
<circle cx="589.5" cy="268.5" r="2.35"/>
<circle cx="578.3" cy="267.1" r="2.35"/>
<circle cx="590.8" cy="266.8" r="2.35"/>
<circle cx="570.8" cy="267.3" r="2.35"/>
<circle cx="597.5" cy="267.2" r="2.35"/>
<circle cx="585.9" cy="266.8" r="2.35"/>
<circle cx="574.4" cy="265.8" r="2.35"/>
<circle cx="583.2" cy="266.3" r="2.35"/>
<circle cx="569.2" cy="266.2" r="2.35"/>
<circle cx="573.7" cy="266.3" r="2.35"/>
<circle cx="591.7" cy="265.7" r="2.35"/>
<circle cx="570.3" cy="265.0" r="2.35"/>
<circle cx="592.8" cy="265.3" r="2.35"/>
<circle cx="586.0" cy="264.8" r="2.35"/>
<circle cx="570.4" cy="265.4" r="2.35"/>
<circle cx="592.2" cy="263.5" r="2.35"/>
<circle cx="594.2" cy="264.4" r="2.35"/>
<circle cx="596.5" cy="264.1" r="2.35"/>
<circle cx="574.6" cy="262.8" r="2.35"/>
<circle cx="574.1" cy="262.2" r="2.35"/>
<circle cx="574.3" cy="260.8" r="2.35"/>
<circle cx="581.4" cy="260.1" r="2.35"/>
<circle cx="589.8" cy="259.3" r="2.35"/>
<circle cx="591.2" cy="258.1" r="2.35"/>
<circle cx="575.0" cy="256.3" r="2.35"/>
<circle cx="578.7" cy="254.7" r="2.35"/>
<circle cx="596.8" cy="254.0" r="2.35"/>
<circle cx="577.0" cy="253.3" r="2.35"/>
<circle cx="577.7" cy="252.5" r="2.35"/>
<circle cx="579.9" cy="250.7" r="2.35"/>
<circle cx="597.1" cy="250.4" r="2.35"/>
<circle cx="581.9" cy="247.6" r="2.35"/>
<circle cx="592.1" cy="246.5" r="2.35"/>
<circle cx="583.1" cy="245.2" r="2.35"/>
<circle cx="582.7" cy="242.6" r="2.35"/>
<circle cx="609.3" cy="324.0" r="2.35"/>
<circle cx="609.9" cy="321.1" r="2.35"/>
<circle cx="610.5" cy="320.6" r="2.35"/>
<circle cx="612.6" cy="319.8" r="2.35"/>
<circle cx="612.7" cy="319.7" r="2.35"/>
<circle cx="611.6" cy="320.2" r="2.35"/>
<circle cx="610.9" cy="318.7" r="2.35"/>
<circle cx="609.6" cy="319.3" r="2.35"/>
<circle cx="613.2" cy="319.3" r="2.35"/>
<circle cx="609.6" cy="319.5" r="2.35"/>
<circle cx="611.0" cy="317.5" r="2.35"/>
<circle cx="615.3" cy="317.5" r="2.35"/>
<circle cx="610.6" cy="318.4" r="2.35"/>
<circle cx="609.7" cy="318.0" r="2.35"/>
<circle cx="612.3" cy="317.3" r="2.35"/>
<circle cx="612.0" cy="316.9" r="2.35"/>
<circle cx="614.3" cy="316.8" r="2.35"/>
<circle cx="616.0" cy="316.8" r="2.35"/>
<circle cx="609.9" cy="316.7" r="2.35"/>
<circle cx="613.9" cy="316.1" r="2.35"/>
<circle cx="615.7" cy="316.3" r="2.35"/>
<circle cx="610.9" cy="316.3" r="2.35"/>
<circle cx="610.2" cy="315.6" r="2.35"/>
<circle cx="614.0" cy="316.2" r="2.35"/>
<circle cx="612.2" cy="315.5" r="2.35"/>
<circle cx="611.0" cy="314.7" r="2.35"/>
<circle cx="615.4" cy="314.5" r="2.35"/>
<circle cx="609.9" cy="315.0" r="2.35"/>
<circle cx="617.4" cy="314.7" r="2.35"/>
<circle cx="618.7" cy="315.5" r="2.35"/>
<circle cx="611.5" cy="315.4" r="2.35"/>
<circle cx="620.5" cy="313.9" r="2.35"/>
<circle cx="620.0" cy="314.1" r="2.35"/>
<circle cx="619.2" cy="314.1" r="2.35"/>
<circle cx="613.2" cy="313.7" r="2.35"/>
<circle cx="620.2" cy="314.4" r="2.35"/>
<circle cx="617.1" cy="313.3" r="2.35"/>
<circle cx="614.5" cy="313.4" r="2.35"/>
<circle cx="613.0" cy="313.2" r="2.35"/>
<circle cx="616.9" cy="312.8" r="2.35"/>
<circle cx="613.0" cy="313.5" r="2.35"/>
<circle cx="618.4" cy="312.3" r="2.35"/>
<circle cx="614.4" cy="312.3" r="2.35"/>
<circle cx="619.8" cy="312.0" r="2.35"/>
<circle cx="612.3" cy="312.4" r="2.35"/>
<circle cx="615.2" cy="311.9" r="2.35"/>
<circle cx="617.9" cy="312.4" r="2.35"/>
<circle cx="619.2" cy="311.1" r="2.35"/>
<circle cx="614.5" cy="311.2" r="2.35"/>
<circle cx="622.7" cy="311.2" r="2.35"/>
<circle cx="617.6" cy="311.1" r="2.35"/>
<circle cx="615.9" cy="310.6" r="2.35"/>
<circle cx="623.3" cy="311.1" r="2.35"/>
<circle cx="620.2" cy="310.3" r="2.35"/>
<circle cx="612.6" cy="309.6" r="2.35"/>
<circle cx="616.4" cy="309.7" r="2.35"/>
<circle cx="616.2" cy="309.6" r="2.35"/>
<circle cx="616.8" cy="310.3" r="2.35"/>
<circle cx="612.6" cy="309.9" r="2.35"/>
<circle cx="623.4" cy="309.4" r="2.35"/>
<circle cx="619.3" cy="309.1" r="2.35"/>
<circle cx="617.7" cy="309.4" r="2.35"/>
<circle cx="615.1" cy="309.0" r="2.35"/>
<circle cx="623.6" cy="309.4" r="2.35"/>
<circle cx="617.5" cy="308.7" r="2.35"/>
<circle cx="614.4" cy="308.4" r="2.35"/>
<circle cx="624.5" cy="307.5" r="2.35"/>
<circle cx="617.8" cy="308.4" r="2.35"/>
<circle cx="624.3" cy="308.1" r="2.35"/>
<circle cx="623.9" cy="307.9" r="2.35"/>
<circle cx="622.7" cy="308.3" r="2.35"/>
<circle cx="614.9" cy="307.1" r="2.35"/>
<circle cx="623.6" cy="306.7" r="2.35"/>
<circle cx="614.5" cy="307.3" r="2.35"/>
<circle cx="617.0" cy="307.0" r="2.35"/>
<circle cx="616.8" cy="307.4" r="2.35"/>
<circle cx="615.2" cy="306.8" r="2.35"/>
<circle cx="613.5" cy="305.9" r="2.35"/>
<circle cx="622.7" cy="306.5" r="2.35"/>
<circle cx="624.0" cy="306.4" r="2.35"/>
<circle cx="620.2" cy="305.9" r="2.35"/>
<circle cx="620.6" cy="306.2" r="2.35"/>
<circle cx="617.6" cy="305.9" r="2.35"/>
<circle cx="621.6" cy="305.1" r="2.35"/>
<circle cx="618.2" cy="305.5" r="2.35"/>
<circle cx="620.9" cy="305.0" r="2.35"/>
<circle cx="615.6" cy="304.7" r="2.35"/>
<circle cx="623.6" cy="305.0" r="2.35"/>
<circle cx="614.9" cy="305.0" r="2.35"/>
<circle cx="614.6" cy="304.1" r="2.35"/>
<circle cx="614.2" cy="304.1" r="2.35"/>
<circle cx="619.7" cy="304.5" r="2.35"/>
<circle cx="621.8" cy="304.4" r="2.35"/>
<circle cx="623.4" cy="303.7" r="2.35"/>
<circle cx="619.7" cy="304.4" r="2.35"/>
<circle cx="619.6" cy="304.1" r="2.35"/>
<circle cx="614.9" cy="302.6" r="2.35"/>
<circle cx="629.2" cy="302.8" r="2.35"/>
<circle cx="625.7" cy="303.3" r="2.35"/>
<circle cx="628.9" cy="303.0" r="2.35"/>
<circle cx="628.4" cy="302.6" r="2.35"/>
<circle cx="615.3" cy="302.7" r="2.35"/>
<circle cx="614.4" cy="302.1" r="2.35"/>
<circle cx="625.3" cy="302.3" r="2.35"/>
<circle cx="628.1" cy="302.2" r="2.35"/>
<circle cx="626.5" cy="302.4" r="2.35"/>
<circle cx="620.6" cy="301.6" r="2.35"/>
<circle cx="616.1" cy="302.2" r="2.35"/>
<circle cx="618.0" cy="301.5" r="2.35"/>
<circle cx="616.0" cy="301.3" r="2.35"/>
<circle cx="629.9" cy="300.8" r="2.35"/>
<circle cx="629.0" cy="301.3" r="2.35"/>
<circle cx="626.7" cy="301.4" r="2.35"/>
<circle cx="621.7" cy="300.9" r="2.35"/>
<circle cx="618.7" cy="300.6" r="2.35"/>
<circle cx="623.2" cy="299.6" r="2.35"/>
<circle cx="615.3" cy="299.5" r="2.35"/>
<circle cx="624.2" cy="300.1" r="2.35"/>
<circle cx="627.7" cy="300.2" r="2.35"/>
<circle cx="632.1" cy="299.9" r="2.35"/>
<circle cx="619.1" cy="299.7" r="2.35"/>
<circle cx="620.5" cy="300.3" r="2.35"/>
<circle cx="614.8" cy="298.7" r="2.35"/>
<circle cx="617.6" cy="298.9" r="2.35"/>
<circle cx="632.7" cy="298.9" r="2.35"/>
<circle cx="625.4" cy="299.2" r="2.35"/>
<circle cx="614.5" cy="299.5" r="2.35"/>
<circle cx="616.0" cy="298.9" r="2.35"/>
<circle cx="620.7" cy="299.0" r="2.35"/>
<circle cx="615.9" cy="298.3" r="2.35"/>
<circle cx="625.6" cy="298.5" r="2.35"/>
<circle cx="614.6" cy="298.1" r="2.35"/>
<circle cx="615.6" cy="298.1" r="2.35"/>
<circle cx="617.3" cy="297.9" r="2.35"/>
<circle cx="624.2" cy="298.3" r="2.35"/>
<circle cx="625.0" cy="298.0" r="2.35"/>
<circle cx="632.8" cy="297.3" r="2.35"/>
<circle cx="616.3" cy="297.4" r="2.35"/>
<circle cx="625.7" cy="296.6" r="2.35"/>
<circle cx="629.0" cy="297.1" r="2.35"/>
<circle cx="618.2" cy="297.5" r="2.35"/>
<circle cx="625.8" cy="296.9" r="2.35"/>
<circle cx="619.7" cy="296.9" r="2.35"/>
<circle cx="633.4" cy="295.8" r="2.35"/>
<circle cx="618.1" cy="295.6" r="2.35"/>
<circle cx="615.1" cy="296.0" r="2.35"/>
<circle cx="621.0" cy="296.3" r="2.35"/>
<circle cx="615.3" cy="295.7" r="2.35"/>
<circle cx="614.9" cy="295.9" r="2.35"/>
<circle cx="633.5" cy="296.4" r="2.35"/>
<circle cx="625.8" cy="295.0" r="2.35"/>
<circle cx="626.5" cy="294.7" r="2.35"/>
<circle cx="617.0" cy="295.2" r="2.35"/>
<circle cx="619.2" cy="295.5" r="2.35"/>
<circle cx="632.7" cy="294.7" r="2.35"/>
<circle cx="628.3" cy="295.5" r="2.35"/>
<circle cx="631.5" cy="294.8" r="2.35"/>
<circle cx="629.4" cy="294.0" r="2.35"/>
<circle cx="618.1" cy="294.4" r="2.35"/>
<circle cx="618.2" cy="294.5" r="2.35"/>
<circle cx="620.1" cy="293.8" r="2.35"/>
<circle cx="628.2" cy="293.7" r="2.35"/>
<circle cx="628.7" cy="294.2" r="2.35"/>
<circle cx="624.9" cy="294.1" r="2.35"/>
<circle cx="624.5" cy="293.2" r="2.35"/>
<circle cx="627.3" cy="292.5" r="2.35"/>
<circle cx="618.1" cy="292.6" r="2.35"/>
<circle cx="615.2" cy="293.2" r="2.35"/>
<circle cx="618.5" cy="292.8" r="2.35"/>
<circle cx="635.3" cy="292.8" r="2.35"/>
<circle cx="620.2" cy="292.6" r="2.35"/>
<circle cx="618.7" cy="291.6" r="2.35"/>
<circle cx="627.5" cy="291.8" r="2.35"/>
<circle cx="628.3" cy="291.5" r="2.35"/>
<circle cx="623.6" cy="291.7" r="2.35"/>
<circle cx="629.2" cy="291.6" r="2.35"/>
<circle cx="622.8" cy="291.8" r="2.35"/>
<circle cx="626.0" cy="292.2" r="2.35"/>
<circle cx="627.7" cy="291.4" r="2.35"/>
<circle cx="635.6" cy="291.4" r="2.35"/>
<circle cx="615.6" cy="291.4" r="2.35"/>
<circle cx="636.1" cy="291.2" r="2.35"/>
<circle cx="617.2" cy="291.5" r="2.35"/>
<circle cx="615.7" cy="290.8" r="2.35"/>
<circle cx="628.0" cy="290.8" r="2.35"/>
<circle cx="616.2" cy="289.9" r="2.35"/>
<circle cx="621.8" cy="289.7" r="2.35"/>
<circle cx="633.7" cy="289.6" r="2.35"/>
<circle cx="616.2" cy="289.6" r="2.35"/>
<circle cx="636.5" cy="289.6" r="2.35"/>
<circle cx="616.8" cy="290.3" r="2.35"/>
<circle cx="616.9" cy="290.5" r="2.35"/>
<circle cx="634.1" cy="288.9" r="2.35"/>
<circle cx="634.5" cy="288.9" r="2.35"/>
<circle cx="620.5" cy="289.4" r="2.35"/>
<circle cx="616.9" cy="288.7" r="2.35"/>
<circle cx="618.8" cy="289.2" r="2.35"/>
<circle cx="623.6" cy="289.5" r="2.35"/>
<circle cx="619.8" cy="289.2" r="2.35"/>
<circle cx="622.6" cy="288.2" r="2.35"/>
<circle cx="639.6" cy="288.0" r="2.35"/>
<circle cx="636.0" cy="287.9" r="2.35"/>
<circle cx="616.1" cy="288.1" r="2.35"/>
<circle cx="624.3" cy="287.7" r="2.35"/>
<circle cx="622.1" cy="287.8" r="2.35"/>
<circle cx="627.0" cy="288.3" r="2.35"/>
<circle cx="617.1" cy="286.7" r="2.35"/>
<circle cx="618.6" cy="287.5" r="2.35"/>
<circle cx="619.2" cy="286.7" r="2.35"/>
<circle cx="640.8" cy="287.5" r="2.35"/>
<circle cx="626.1" cy="287.0" r="2.35"/>
<circle cx="635.0" cy="287.3" r="2.35"/>
<circle cx="626.2" cy="287.2" r="2.35"/>
<circle cx="620.7" cy="285.6" r="2.35"/>
<circle cx="621.3" cy="286.3" r="2.35"/>
<circle cx="632.6" cy="286.0" r="2.35"/>
<circle cx="617.7" cy="285.9" r="2.35"/>
<circle cx="617.2" cy="285.7" r="2.35"/>
<circle cx="632.6" cy="285.7" r="2.35"/>
<circle cx="630.5" cy="286.1" r="2.35"/>
<circle cx="624.4" cy="284.6" r="2.35"/>
<circle cx="617.4" cy="284.6" r="2.35"/>
<circle cx="616.6" cy="285.3" r="2.35"/>
<circle cx="621.1" cy="284.6" r="2.35"/>
<circle cx="627.3" cy="285.1" r="2.35"/>
<circle cx="639.2" cy="285.3" r="2.35"/>
<circle cx="626.2" cy="285.0" r="2.35"/>
<circle cx="635.5" cy="283.9" r="2.35"/>
<circle cx="623.5" cy="284.2" r="2.35"/>
<circle cx="618.9" cy="283.7" r="2.35"/>
<circle cx="632.6" cy="283.8" r="2.35"/>
<circle cx="619.2" cy="284.1" r="2.35"/>
<circle cx="636.2" cy="283.9" r="2.35"/>
<circle cx="618.4" cy="284.0" r="2.35"/>
<circle cx="621.0" cy="283.3" r="2.35"/>
<circle cx="622.6" cy="282.8" r="2.35"/>
<circle cx="639.3" cy="283.3" r="2.35"/>
<circle cx="619.2" cy="283.3" r="2.35"/>
<circle cx="623.2" cy="283.0" r="2.35"/>
<circle cx="619.3" cy="283.2" r="2.35"/>
<circle cx="619.9" cy="282.5" r="2.35"/>
<circle cx="618.3" cy="281.5" r="2.35"/>
<circle cx="618.3" cy="282.1" r="2.35"/>
<circle cx="645.1" cy="281.7" r="2.35"/>
<circle cx="636.1" cy="282.1" r="2.35"/>
<circle cx="620.3" cy="281.9" r="2.35"/>
<circle cx="618.4" cy="282.3" r="2.35"/>
<circle cx="625.3" cy="282.5" r="2.35"/>
<circle cx="638.8" cy="280.8" r="2.35"/>
<circle cx="629.0" cy="280.9" r="2.35"/>
<circle cx="627.8" cy="281.4" r="2.35"/>
<circle cx="632.3" cy="281.1" r="2.35"/>
<circle cx="637.0" cy="280.6" r="2.35"/>
<circle cx="626.8" cy="280.9" r="2.35"/>
<circle cx="637.3" cy="281.1" r="2.35"/>
<circle cx="621.3" cy="280.8" r="2.35"/>
<circle cx="638.8" cy="279.8" r="2.35"/>
<circle cx="641.7" cy="279.8" r="2.35"/>
<circle cx="634.1" cy="280.0" r="2.35"/>
<circle cx="623.8" cy="279.9" r="2.35"/>
<circle cx="618.6" cy="280.1" r="2.35"/>
<circle cx="639.1" cy="279.8" r="2.35"/>
<circle cx="633.7" cy="280.2" r="2.35"/>
<circle cx="628.3" cy="278.9" r="2.35"/>
<circle cx="626.9" cy="278.8" r="2.35"/>
<circle cx="645.2" cy="279.3" r="2.35"/>
<circle cx="635.0" cy="278.7" r="2.35"/>
<circle cx="626.3" cy="279.0" r="2.35"/>
<circle cx="647.0" cy="279.5" r="2.35"/>
<circle cx="631.2" cy="279.3" r="2.35"/>
<circle cx="639.6" cy="278.6" r="2.35"/>
<circle cx="618.9" cy="277.9" r="2.35"/>
<circle cx="631.3" cy="277.8" r="2.35"/>
<circle cx="630.4" cy="277.9" r="2.35"/>
<circle cx="641.7" cy="278.0" r="2.35"/>
<circle cx="627.1" cy="277.6" r="2.35"/>
<circle cx="621.4" cy="277.8" r="2.35"/>
<circle cx="626.6" cy="277.7" r="2.35"/>
<circle cx="619.4" cy="277.5" r="2.35"/>
<circle cx="618.2" cy="277.2" r="2.35"/>
<circle cx="627.0" cy="277.5" r="2.35"/>
<circle cx="627.6" cy="277.1" r="2.35"/>
<circle cx="637.1" cy="277.1" r="2.35"/>
<circle cx="623.0" cy="277.3" r="2.35"/>
<circle cx="638.7" cy="276.6" r="2.35"/>
<circle cx="631.1" cy="277.3" r="2.35"/>
<circle cx="641.0" cy="277.1" r="2.35"/>
<circle cx="619.8" cy="275.7" r="2.35"/>
<circle cx="641.6" cy="275.9" r="2.35"/>
<circle cx="629.4" cy="275.9" r="2.35"/>
<circle cx="622.1" cy="275.5" r="2.35"/>
<circle cx="625.7" cy="275.9" r="2.35"/>
<circle cx="642.0" cy="275.7" r="2.35"/>
<circle cx="629.3" cy="276.2" r="2.35"/>
<circle cx="632.0" cy="276.4" r="2.35"/>
<circle cx="626.0" cy="274.6" r="2.35"/>
<circle cx="623.4" cy="275.1" r="2.35"/>
<circle cx="623.0" cy="275.1" r="2.35"/>
<circle cx="621.2" cy="275.5" r="2.35"/>
<circle cx="638.6" cy="275.2" r="2.35"/>
<circle cx="622.8" cy="275.2" r="2.35"/>
<circle cx="629.9" cy="275.1" r="2.35"/>
<circle cx="636.5" cy="274.1" r="2.35"/>
<circle cx="647.0" cy="273.6" r="2.35"/>
<circle cx="618.5" cy="273.7" r="2.35"/>
<circle cx="646.1" cy="273.7" r="2.35"/>
<circle cx="620.3" cy="273.7" r="2.35"/>
<circle cx="635.6" cy="274.5" r="2.35"/>
<circle cx="617.8" cy="273.5" r="2.35"/>
<circle cx="623.2" cy="273.4" r="2.35"/>
<circle cx="620.4" cy="273.3" r="2.35"/>
<circle cx="641.3" cy="273.2" r="2.35"/>
<circle cx="620.7" cy="272.6" r="2.35"/>
<circle cx="641.9" cy="273.3" r="2.35"/>
<circle cx="645.9" cy="272.9" r="2.35"/>
<circle cx="641.5" cy="272.8" r="2.35"/>
<circle cx="642.1" cy="271.7" r="2.35"/>
<circle cx="621.9" cy="271.8" r="2.35"/>
<circle cx="632.4" cy="271.8" r="2.35"/>
<circle cx="629.2" cy="271.6" r="2.35"/>
<circle cx="633.2" cy="272.2" r="2.35"/>
<circle cx="622.9" cy="272.4" r="2.35"/>
<circle cx="631.1" cy="272.4" r="2.35"/>
<circle cx="620.7" cy="271.0" r="2.35"/>
<circle cx="631.4" cy="271.0" r="2.35"/>
<circle cx="645.4" cy="271.5" r="2.35"/>
<circle cx="644.5" cy="271.0" r="2.35"/>
<circle cx="633.7" cy="270.8" r="2.35"/>
<circle cx="644.5" cy="271.1" r="2.35"/>
<circle cx="628.7" cy="270.5" r="2.35"/>
<circle cx="636.8" cy="269.9" r="2.35"/>
<circle cx="618.5" cy="269.9" r="2.35"/>
<circle cx="638.5" cy="269.6" r="2.35"/>
<circle cx="626.1" cy="269.5" r="2.35"/>
<circle cx="632.1" cy="270.0" r="2.35"/>
<circle cx="647.2" cy="270.5" r="2.35"/>
<circle cx="639.9" cy="269.9" r="2.35"/>
<circle cx="645.9" cy="269.1" r="2.35"/>
<circle cx="631.0" cy="269.0" r="2.35"/>
<circle cx="642.1" cy="269.3" r="2.35"/>
<circle cx="629.6" cy="269.1" r="2.35"/>
<circle cx="633.8" cy="268.7" r="2.35"/>
<circle cx="625.0" cy="268.7" r="2.35"/>
<circle cx="628.6" cy="269.0" r="2.35"/>
<circle cx="632.1" cy="267.5" r="2.35"/>
<circle cx="637.5" cy="267.7" r="2.35"/>
<circle cx="626.3" cy="268.2" r="2.35"/>
<circle cx="625.3" cy="267.9" r="2.35"/>
<circle cx="636.8" cy="267.7" r="2.35"/>
<circle cx="618.9" cy="267.8" r="2.35"/>
<circle cx="646.8" cy="268.0" r="2.35"/>
<circle cx="625.4" cy="267.5" r="2.35"/>
<circle cx="622.3" cy="266.6" r="2.35"/>
<circle cx="635.8" cy="266.8" r="2.35"/>
<circle cx="642.8" cy="266.6" r="2.35"/>
<circle cx="635.9" cy="266.9" r="2.35"/>
<circle cx="636.5" cy="266.8" r="2.35"/>
<circle cx="635.4" cy="266.8" r="2.35"/>
<circle cx="638.0" cy="266.0" r="2.35"/>
<circle cx="641.7" cy="266.4" r="2.35"/>
<circle cx="622.1" cy="266.5" r="2.35"/>
<circle cx="642.2" cy="265.6" r="2.35"/>
<circle cx="637.6" cy="266.1" r="2.35"/>
<circle cx="644.1" cy="265.7" r="2.35"/>
<circle cx="624.3" cy="265.2" r="2.35"/>
<circle cx="629.3" cy="265.2" r="2.35"/>
<circle cx="629.6" cy="264.9" r="2.35"/>
<circle cx="648.6" cy="265.4" r="2.35"/>
<circle cx="634.3" cy="265.5" r="2.35"/>
<circle cx="620.7" cy="264.7" r="2.35"/>
<circle cx="647.9" cy="264.1" r="2.35"/>
<circle cx="618.9" cy="264.1" r="2.35"/>
<circle cx="635.2" cy="263.6" r="2.35"/>
<circle cx="650.4" cy="264.0" r="2.35"/>
<circle cx="629.0" cy="264.4" r="2.35"/>
<circle cx="637.1" cy="264.3" r="2.35"/>
<circle cx="619.0" cy="263.5" r="2.35"/>
<circle cx="638.6" cy="263.4" r="2.35"/>
<circle cx="649.7" cy="263.4" r="2.35"/>
<circle cx="645.8" cy="263.4" r="2.35"/>
<circle cx="619.0" cy="262.8" r="2.35"/>
<circle cx="624.0" cy="262.8" r="2.35"/>
<circle cx="619.6" cy="261.7" r="2.35"/>
<circle cx="639.6" cy="261.6" r="2.35"/>
<circle cx="640.3" cy="262.4" r="2.35"/>
<circle cx="636.5" cy="261.8" r="2.35"/>
<circle cx="630.7" cy="261.6" r="2.35"/>
<circle cx="624.4" cy="261.5" r="2.35"/>
<circle cx="619.1" cy="261.5" r="2.35"/>
<circle cx="637.3" cy="260.7" r="2.35"/>
<circle cx="620.2" cy="261.2" r="2.35"/>
<circle cx="640.2" cy="261.3" r="2.35"/>
<circle cx="645.3" cy="261.0" r="2.35"/>
<circle cx="627.8" cy="259.9" r="2.35"/>
<circle cx="630.0" cy="259.8" r="2.35"/>
<circle cx="621.7" cy="259.7" r="2.35"/>
<circle cx="627.6" cy="259.9" r="2.35"/>
<circle cx="636.5" cy="260.1" r="2.35"/>
<circle cx="628.3" cy="259.7" r="2.35"/>
<circle cx="642.2" cy="258.9" r="2.35"/>
<circle cx="625.6" cy="259.4" r="2.35"/>
<circle cx="649.7" cy="258.8" r="2.35"/>
<circle cx="643.9" cy="259.2" r="2.35"/>
<circle cx="635.7" cy="258.5" r="2.35"/>
<circle cx="635.5" cy="258.2" r="2.35"/>
<circle cx="629.8" cy="257.6" r="2.35"/>
<circle cx="628.2" cy="257.8" r="2.35"/>
<circle cx="635.6" cy="257.6" r="2.35"/>
<circle cx="643.1" cy="258.2" r="2.35"/>
<circle cx="625.0" cy="257.1" r="2.35"/>
<circle cx="635.1" cy="256.7" r="2.35"/>
<circle cx="646.1" cy="257.5" r="2.35"/>
<circle cx="644.0" cy="256.7" r="2.35"/>
<circle cx="645.3" cy="256.9" r="2.35"/>
<circle cx="644.6" cy="255.7" r="2.35"/>
<circle cx="638.5" cy="255.6" r="2.35"/>
<circle cx="627.5" cy="256.4" r="2.35"/>
<circle cx="634.0" cy="255.7" r="2.35"/>
<circle cx="623.5" cy="255.7" r="2.35"/>
<circle cx="624.5" cy="254.9" r="2.35"/>
<circle cx="638.3" cy="255.0" r="2.35"/>
<circle cx="623.8" cy="255.2" r="2.35"/>
<circle cx="640.9" cy="254.7" r="2.35"/>
<circle cx="621.3" cy="253.7" r="2.35"/>
<circle cx="641.6" cy="254.3" r="2.35"/>
<circle cx="634.9" cy="253.6" r="2.35"/>
<circle cx="645.8" cy="254.0" r="2.35"/>
<circle cx="635.2" cy="253.3" r="2.35"/>
<circle cx="623.7" cy="253.3" r="2.35"/>
<circle cx="639.1" cy="253.1" r="2.35"/>
<circle cx="634.4" cy="253.1" r="2.35"/>
<circle cx="622.8" cy="252.5" r="2.35"/>
<circle cx="649.9" cy="252.1" r="2.35"/>
<circle cx="621.9" cy="251.9" r="2.35"/>
<circle cx="642.1" cy="252.3" r="2.35"/>
<circle cx="627.9" cy="251.0" r="2.35"/>
<circle cx="620.7" cy="251.5" r="2.35"/>
<circle cx="649.6" cy="250.6" r="2.35"/>
<circle cx="632.0" cy="250.9" r="2.35"/>
<circle cx="641.8" cy="250.1" r="2.35"/>
<circle cx="647.8" cy="249.7" r="2.35"/>
<circle cx="643.2" cy="249.5" r="2.35"/>
<circle cx="625.5" cy="250.5" r="2.35"/>
<circle cx="623.9" cy="249.4" r="2.35"/>
<circle cx="621.4" cy="248.9" r="2.35"/>
<circle cx="644.9" cy="249.0" r="2.35"/>
<circle cx="647.7" cy="248.6" r="2.35"/>
<circle cx="635.6" cy="248.1" r="2.35"/>
<circle cx="622.7" cy="247.5" r="2.35"/>
<circle cx="625.8" cy="247.9" r="2.35"/>
<circle cx="636.9" cy="247.5" r="2.35"/>
<circle cx="629.5" cy="247.1" r="2.35"/>
<circle cx="623.7" cy="246.5" r="2.35"/>
<circle cx="649.0" cy="247.3" r="2.35"/>
<circle cx="626.0" cy="246.1" r="2.35"/>
<circle cx="645.6" cy="245.6" r="2.35"/>
<circle cx="643.4" cy="246.5" r="2.35"/>
<circle cx="639.0" cy="244.9" r="2.35"/>
<circle cx="648.4" cy="245.4" r="2.35"/>
<circle cx="623.6" cy="244.7" r="2.35"/>
<circle cx="637.9" cy="244.2" r="2.35"/>
<circle cx="635.3" cy="243.7" r="2.35"/>
<circle cx="627.9" cy="243.2" r="2.35"/>
<circle cx="623.5" cy="243.0" r="2.35"/>
<circle cx="624.3" cy="243.3" r="2.35"/>
<circle cx="637.8" cy="242.5" r="2.35"/>
<circle cx="639.0" cy="242.3" r="2.35"/>
<circle cx="622.2" cy="241.6" r="2.35"/>
<circle cx="645.9" cy="240.6" r="2.35"/>
<circle cx="644.4" cy="241.4" r="2.35"/>
<circle cx="623.4" cy="239.6" r="2.35"/>
<circle cx="642.7" cy="239.9" r="2.35"/>
<circle cx="628.5" cy="238.7" r="2.35"/>
<circle cx="632.0" cy="238.9" r="2.35"/>
<circle cx="626.0" cy="238.4" r="2.35"/>
<circle cx="638.6" cy="237.9" r="2.35"/>
<circle cx="643.2" cy="237.2" r="2.35"/>
<circle cx="630.5" cy="237.3" r="2.35"/>
<circle cx="642.2" cy="236.2" r="2.35"/>
<circle cx="625.3" cy="236.0" r="2.35"/>
<circle cx="643.9" cy="235.4" r="2.35"/>
<circle cx="623.9" cy="233.6" r="2.35"/>
<circle cx="626.5" cy="233.0" r="2.35"/>
<circle cx="627.6" cy="232.3" r="2.35"/>
<circle cx="645.8" cy="230.5" r="2.35"/>
<circle cx="628.6" cy="228.6" r="2.35"/>
<circle cx="638.4" cy="228.2" r="2.35"/>
<circle cx="640.2" cy="226.2" r="2.35"/>
<circle cx="625.1" cy="224.7" r="2.35"/>
<circle cx="631.9" cy="222.6" r="2.35"/>
<circle cx="649.9" cy="288.5" r="2.35"/>
<circle cx="664.2" cy="259.8" r="2.35"/>
<circle cx="647.1" cy="254.4" r="2.35"/>
<circle cx="661.4" cy="274.8" r="2.35"/>
<circle cx="652.4" cy="260.3" r="2.35"/>
<circle cx="661.5" cy="285.4" r="2.35"/>
<circle cx="666.9" cy="279.1" r="2.35"/>
<circle cx="650.5" cy="253.3" r="2.35"/>
<circle cx="664.8" cy="270.4" r="2.35"/>
<circle cx="664.5" cy="252.8" r="2.35"/>
<circle cx="666.9" cy="266.8" r="2.35"/>
<circle cx="667.7" cy="293.2" r="2.35"/>
<circle cx="658.3" cy="250.8" r="2.35"/>
<circle cx="669.6" cy="273.8" r="2.35"/>
<circle cx="668.5" cy="263.3" r="2.35"/>
<circle cx="650.0" cy="291.6" r="2.35"/>
<circle cx="654.9" cy="258.2" r="2.35"/>
<circle cx="655.0" cy="279.7" r="2.35"/>
<circle cx="645.1" cy="276.0" r="2.35"/>
<circle cx="657.0" cy="275.8" r="2.35"/>
<circle cx="648.3" cy="285.7" r="2.35"/>
<circle cx="667.0" cy="293.3" r="2.35"/>
<circle cx="653.7" cy="285.6" r="2.35"/>
<circle cx="655.3" cy="287.6" r="2.35"/>
<circle cx="646.7" cy="293.6" r="2.35"/>
<circle cx="670.8" cy="274.7" r="2.35"/>
<circle cx="658.9" cy="276.5" r="2.35"/>
<circle cx="659.5" cy="251.0" r="2.35"/>
<circle cx="671.1" cy="261.2" r="2.35"/>
<circle cx="649.9" cy="255.1" r="2.35"/>
<circle cx="646.3" cy="245.4" r="2.35"/>
<circle cx="640.8" cy="227.4" r="2.35"/>
<circle cx="657.5" cy="229.9" r="2.35"/>
<circle cx="640.4" cy="240.0" r="2.35"/>
<circle cx="654.4" cy="238.1" r="2.35"/>
<circle cx="657.6" cy="227.6" r="2.35"/>
<circle cx="661.7" cy="242.9" r="2.35"/>
<circle cx="641.1" cy="228.1" r="2.35"/>
<circle cx="652.3" cy="237.5" r="2.35"/>
<circle cx="647.0" cy="228.1" r="2.35"/>
<circle cx="650.1" cy="228.4" r="2.35"/>
<circle cx="654.8" cy="246.5" r="2.35"/>
<circle cx="651.8" cy="305.7" r="2.35"/>
<circle cx="571.2" cy="268.2" r="2.35"/>
<circle cx="572.4" cy="297.6" r="2.35"/>
<circle cx="565.8" cy="278.0" r="2.35"/>
<circle cx="572.6" cy="282.0" r="2.35"/>
<circle cx="565.9" cy="297.8" r="2.35"/>
<circle cx="571.7" cy="274.9" r="2.35"/>
<circle cx="563.6" cy="274.7" r="2.35"/>
<circle cx="566.5" cy="299.3" r="2.35"/>
<circle cx="572.1" cy="296.7" r="2.35"/>
<circle cx="572.2" cy="294.2" r="2.35"/>
<circle cx="560.8" cy="281.7" r="2.35"/>
<circle cx="589.4" cy="311.2" r="2.35"/>
<circle cx="578.7" cy="305.1" r="2.35"/>
<circle cx="584.5" cy="304.4" r="2.35"/>
<circle cx="583.0" cy="300.8" r="2.35"/>
<circle cx="583.3" cy="251.1" r="2.35"/>
<circle cx="572.5" cy="243.1" r="2.35"/>
<circle cx="597.2" cy="257.1" r="2.35"/>
<circle cx="596.4" cy="253.9" r="2.35"/>
<circle cx="593.0" cy="259.5" r="2.35"/>
<circle cx="595.0" cy="240.8" r="2.35"/>
<circle cx="588.7" cy="245.8" r="2.35"/>
<circle cx="589.6" cy="246.0" r="2.35"/>
<circle cx="586.1" cy="260.3" r="2.35"/>
<circle cx="588.2" cy="245.5" r="2.35"/>
<circle cx="585.5" cy="249.5" r="2.35"/>
</g>
<g fill="#d9656d" fill-opacity="0.9">
<circle cx="531.25" cy="52.25" r="2.4"/>
<circle cx="485" cy="74" r="2.4"/>
<circle cx="559.2" cy="64.4" r="2.4"/>
<circle cx="524" cy="92" r="2.4"/>
<circle cx="491.75" cy="111.75" r="2.4"/>
<circle cx="507.5" cy="108.25" r="2.4"/>
<circle cx="533" cy="108" r="2.4"/>
<circle cx="505" cy="115.5" r="2.4"/>
<circle cx="543.2" cy="114.8" r="2.4"/>
<circle cx="488" cy="145.4" r="2.4"/>
<circle cx="524.4" cy="139" r="2.4"/>
<circle cx="532" cy="141.4" r="2.4"/>
<circle cx="480" cy="159" r="2.4"/>
<circle cx="503.6" cy="179" r="2.4"/>
<circle cx="468" cy="189.6" r="2.4"/>
<circle cx="506.6" cy="187.4" r="2.4"/>
<circle cx="535" cy="191.4" r="2.4"/>
<circle cx="491" cy="211.5" r="2.4"/>
<circle cx="484" cy="227.9" r="2.4"/>
<circle cx="656.8" cy="80.8" r="2.4"/>
<circle cx="657.7" cy="92" r="2.4"/>
<circle cx="696.5" cy="91.9" r="2.4"/>
<circle cx="701.8" cy="110.9" r="2.4"/>
<circle cx="725.8" cy="122.2" r="2.4"/>
<circle cx="751" cy="129.5" r="2.4"/>
<circle cx="749.9" cy="145.4" r="2.4"/>
<circle cx="664.8" cy="124" r="2.4"/>
<circle cx="671.5" cy="123" r="2.4"/>
<circle cx="677.5" cy="121.5" r="2.4"/>
<circle cx="674" cy="128.6" r="2.4"/>
<circle cx="666.6" cy="138.5" r="2.4"/>
<circle cx="672.7" cy="136.4" r="2.4"/>
<circle cx="700" cy="138.5" r="2.4"/>
<circle cx="699.5" cy="141" r="2.4"/>
<circle cx="685.5" cy="144.5" r="2.4"/>
<circle cx="685.5" cy="146.5" r="2.4"/>
<circle cx="703.5" cy="153.5" r="2.4"/>
<circle cx="704.5" cy="155" r="2.4"/>
<circle cx="715" cy="154.5" r="2.4"/>
<circle cx="685.8" cy="156" r="2.4"/>
<circle cx="685.2" cy="160.5" r="2.4"/>
<circle cx="710" cy="159.4" r="2.4"/>
<circle cx="674" cy="162.5" r="2.4"/>
<circle cx="684.7" cy="161.2" r="2.4"/>
<circle cx="709.5" cy="160.7" r="2.4"/>
<circle cx="715" cy="155.25" r="2.4"/>
<circle cx="693.5" cy="171.2" r="2.4"/>
<circle cx="691" cy="174.5" r="2.4"/>
<circle cx="699" cy="175.5" r="2.4"/>
<circle cx="695" cy="178.5" r="2.4"/>
<circle cx="691.5" cy="181.5" r="2.4"/>
<circle cx="687" cy="182.5" r="2.4"/>
<circle cx="699" cy="181" r="2.4"/>
<circle cx="703.5" cy="181.5" r="2.4"/>
<circle cx="693" cy="188" r="2.4"/>
<circle cx="686.5" cy="187.5" r="2.4"/>
<circle cx="699.5" cy="199" r="2.4"/>
<circle cx="686" cy="196" r="2.4"/>
</g>
<path d="M441.30 236.30 C443.23 236.15 448.83 235.83 452.90 235.40 C456.97 234.97 461.42 234.37 465.70 233.70 C469.98 233.03 474.32 232.33 478.60 231.40 C482.88 230.47 487.12 229.53 491.40 228.10 C495.68 226.67 500.02 224.98 504.30 222.80 C508.58 220.62 513.65 217.52 517.10 215.00 C520.55 212.48 522.47 210.37 525.00 207.70 C527.53 205.03 530.03 202.15 532.30 199.00 C534.57 195.85 536.73 192.37 538.60 188.80 C540.47 185.23 542.00 181.35 543.50 177.60 C545.00 173.85 546.35 170.07 547.60 166.30 C548.85 162.53 549.88 158.75 551.00 155.00 C552.12 151.25 553.30 147.55 554.30 143.80 C555.30 140.05 556.25 136.25 557.00 132.50 C557.75 128.75 558.23 125.05 558.80 121.30 C559.37 117.55 559.93 113.55 560.40 110.00 C560.87 106.45 561.07 106.67 561.60 100.00 C562.13 93.33 563.02 80.00 563.60 70.00 C564.18 60.00 564.70 48.75 565.10 40.00 C565.50 31.25 565.85 21.25 566.00 17.50" fill="none" stroke="#000" stroke-width="2.2"/>
<path d="M651.60 17.50 C651.85 21.25 652.60 31.25 653.10 40.00 C653.60 48.75 654.02 60.00 654.60 70.00 C655.18 80.00 655.82 90.00 656.60 100.00 C657.38 110.00 658.37 122.33 659.30 130.00 C660.23 137.67 661.00 141.17 662.20 146.00 C663.40 150.83 665.17 155.50 666.50 159.00 C667.83 162.50 668.95 164.08 670.20 167.00 C671.45 169.92 672.70 173.33 674.00 176.50 C675.30 179.67 676.67 183.17 678.00 186.00 C679.33 188.83 680.50 191.00 682.00 193.50 C683.50 196.00 685.17 198.58 687.00 201.00 C688.83 203.42 691.00 206.00 693.00 208.00 C695.00 210.00 696.83 211.33 699.00 213.00 C701.17 214.67 703.07 216.22 706.00 218.00 C708.93 219.78 712.70 221.83 716.60 223.70 C720.50 225.57 725.12 227.70 729.40 229.20 C733.68 230.70 738.02 231.78 742.30 232.70 C746.58 233.62 750.82 234.18 755.10 234.70 C759.38 235.22 764.47 235.53 768.00 235.80 C771.53 236.07 774.92 236.22 776.30 236.30" fill="none" stroke="#000" stroke-width="2.2"/>
<line x1="698" y1="178" x2="720.5" y2="173.5" stroke="#000" stroke-width="0.8"/>
<line x1="700.5" y1="183.5" x2="704.5" y2="186" stroke="#000" stroke-width="0.8"/>
<line x1="693.5" y1="183" x2="711" y2="191.5" stroke="#000" stroke-width="0.8"/>
<line x1="693" y1="184.5" x2="715" y2="195.3" stroke="#000" stroke-width="0.8"/>
<line x1="663" y1="120.5" x2="662" y2="117" stroke="#000" stroke-width="0.8"/>
<text class="lb" transform="translate(531.75,46.8) scale(0.72,1)" text-anchor="middle" color="#8a1fc9">F9</text>
<text class="lb" transform="translate(485,70.55) scale(0.72,1)" text-anchor="middle" color="#8a1fc9">CA6</text>
<text class="lb" transform="translate(556,61.099999999999994) scale(0.72,1)" text-anchor="middle" color="#111">RPS21</text>
<text class="lb" transform="translate(524.25,87.8) scale(0.72,1)" text-anchor="middle" color="#8a1fc9">CST3</text>
<text class="lb" transform="translate(485.5,110.05) scale(0.72,1)" text-anchor="middle" color="#8a1fc9">CST1</text>
<text class="lb" transform="translate(508.75,105.05) scale(0.72,1)" text-anchor="middle" color="#8a1fc9">BPIFA2</text>
<text class="lb" transform="translate(530.5,105.05) scale(0.72,1)" text-anchor="middle" color="#8a1fc9">AMY1A</text>
<text class="lb" transform="translate(508,115.8) scale(0.72,1)" text-anchor="start" color="#111">MAN1A1</text>
<text class="lb" transform="translate(550,111.1) scale(0.72,1)" text-anchor="middle" color="#111">DDRGK1</text>
<text class="lb" transform="translate(481.6,141.3) scale(0.72,1)" text-anchor="middle" color="#8a1fc9">CST5</text>
<text class="lb" transform="translate(524.6,135.70000000000002) scale(0.72,1)" text-anchor="middle" color="#111">LPO</text>
<text class="lb" transform="translate(536.4,141.3) scale(0.72,1)" text-anchor="start" color="#111">MCFD2</text>
<text class="lb" transform="translate(477.6,156.70000000000002) scale(0.72,1)" text-anchor="middle" color="#8a1fc9">PRR27</text>
<text class="lb" transform="translate(501,174.9) scale(0.72,1)" text-anchor="middle" color="#111">FURIN</text>
<text class="lb" transform="translate(466.4,186.3) scale(0.72,1)" text-anchor="middle" color="#8a1fc9">PRB3</text>
<text class="lb" transform="translate(495,190.3) scale(0.72,1)" text-anchor="middle" color="#8a1fc9">BPIFB2</text>
<text class="lb" transform="translate(532,187.9) scale(0.72,1)" text-anchor="middle" color="#111">FCGBP</text>
<text class="lb" transform="translate(488,208.0) scale(0.72,1)" text-anchor="middle" color="#111">PRH1</text>
<text class="lb" transform="translate(477.8,225.10000000000002) scale(0.72,1)" text-anchor="middle" color="#8a1fc9">CA6</text>
<text class="lb" transform="translate(659.2,83.1) scale(0.72,1)" text-anchor="start" color="#111">RAB27A</text>
<text class="lb" transform="translate(660.7,94.3) scale(0.72,1)" text-anchor="start" color="#111">MSN</text>
<text class="lb" transform="translate(705.2,87.7) scale(0.72,1)" text-anchor="middle" color="#111">GYS1</text>
<text class="lb" transform="translate(706.7,112.3) scale(0.72,1)" text-anchor="start" color="#111">FLOT2</text>
<text class="lb" transform="translate(729.2,119.8) scale(0.72,1)" text-anchor="middle" color="#111">AMPD3</text>
<text class="lb" transform="translate(659.5,114.1) scale(0.72,1)" text-anchor="start" color="#111">PIP4K2C</text>
<text class="lb" transform="translate(662.5,119.5) scale(0.72,1)" text-anchor="start" color="#111">GLRX</text>
<text class="lb" transform="translate(680,121.1) scale(0.72,1)" text-anchor="start" color="#111">MMP8</text>
<text class="lb" transform="translate(677.8,130.60000000000002) scale(0.72,1)" text-anchor="start" color="#111">CORO1A</text>
<text class="lb" transform="translate(755.2,131.70000000000002) scale(0.72,1)" text-anchor="start" color="#0a9a33">ELANE</text>
<text class="lb" transform="translate(675.2,137.9) scale(0.72,1)" text-anchor="start" color="#111">C16orf62</text>
<text class="lb" transform="translate(702.5,138.3) scale(0.72,1)" text-anchor="start" color="#111">CEACAM8</text>
<text class="lb" transform="translate(682.5,143.10000000000002) scale(0.72,1)" text-anchor="start" color="#111">GCA</text>
<text class="lb" transform="translate(703.5,145.9) scale(0.72,1)" text-anchor="start" color="#0a9a33">AZU1</text>
<text class="lb" transform="translate(665,147.3) scale(0.72,1)" text-anchor="start" color="#111">LCN</text>
<text class="lb" transform="translate(674,149.3) scale(0.72,1)" text-anchor="start" color="#111">VIM</text>
<text class="lb" transform="translate(755.2,149.10000000000002) scale(0.72,1)" text-anchor="start" color="#111">PADI4</text>
<text class="lb" transform="translate(694,151.5) scale(0.72,1)" text-anchor="start" color="#111">MPO</text>
<text class="lb" transform="translate(705.5,153.3) scale(0.72,1)" text-anchor="start" color="#111">HK3</text>
<text class="lb" transform="translate(676.5,154.3) scale(0.72,1)" text-anchor="start" color="#111">RNASE2</text>
<text class="lb" transform="translate(720,156.0) scale(0.72,1)" text-anchor="start" color="#0a9a33">ANXA6</text>
<text class="lb" transform="translate(668.5,160.0) scale(0.72,1)" text-anchor="start" color="#111">LCP1</text>
<text class="lb" transform="translate(714.2,163.4) scale(0.72,1)" text-anchor="start" color="#0a9a33">CTSG</text>
<text class="lb" transform="translate(688,164.4) scale(0.72,1)" text-anchor="start" color="#0a9a33">S100A12</text>
<text class="lb" transform="translate(694.3,169.0) scale(0.72,1)" text-anchor="start" color="#111">ITGB2</text>
<text class="lb" transform="translate(681.5,176.3) scale(0.72,1)" text-anchor="start" color="#0a9a33">BPI</text>
<text class="lb" transform="translate(700.1,174.8) scale(0.72,1)" text-anchor="start" color="#111">DYSF</text>
<text class="lb" transform="translate(721,175.8) scale(0.72,1)" text-anchor="start" color="#0a9a33">RNASE3</text>
<text class="lb" transform="translate(675,180.8) scale(0.72,1)" text-anchor="start" color="#111">CYBB</text>
<text class="lb" transform="translate(705.8,183.10000000000002) scale(0.72,1)" text-anchor="start" color="#111">NCF1</text>
<text class="lb" transform="translate(705.4,188.10000000000002) scale(0.72,1)" text-anchor="start" color="#0a9a33">CAMP</text>
<text class="lb" transform="translate(710,193.3) scale(0.72,1)" text-anchor="start" color="#111">STOM</text>
<text class="lb" transform="translate(690.5,196.20000000000002) scale(0.72,1)" text-anchor="start" color="#111">ALOX5</text>
<text class="lb" transform="translate(714.2,198.8) scale(0.72,1)" text-anchor="start" color="#111">ITGAM</text>
<text class="lb" transform="translate(703,201.10000000000002) scale(0.72,1)" text-anchor="start" color="#0a9a33">LSP1</text>
<text class="lb" transform="translate(691.5,205.60000000000002) scale(0.72,1)" text-anchor="start" color="#111">UNC13D</text>
</svg>
</body></html>
